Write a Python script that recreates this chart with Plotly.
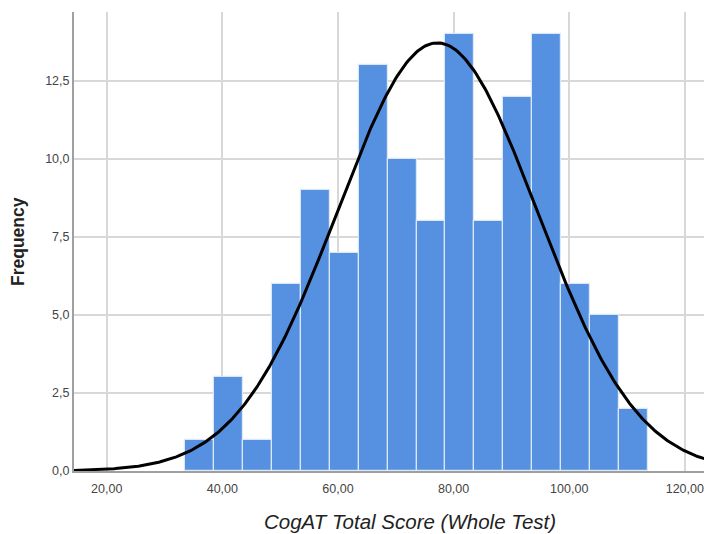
import numpy as np
import plotly.graph_objects as go

# Histogram data
bin_start = 33.6
bin_width = 5.0
counts = [1, 3, 1, 6, 9, 7, 13, 10, 8, 14, 8, 12, 14, 6, 5, 2]

# Fitted normal curve parameters (as displayed by SPSS)
curve_mean = 77.2
curve_sd = 17.3
n_total = sum(counts)

x_tickvals = [20, 40, 60, 80, 100, 120]
x_ticktext = ["20,00", "40,00", "60,00", "80,00", "100,00", "120,00"]
y_tickvals = [0, 2.5, 5.0, 7.5, 10.0, 12.5]
y_ticktext = ["0,0", "2,5", "5,0", "7,5", "10,0", "12,5"]

x_range = [14.34, 124.7]
y_range = [0, 14.71]

centers = [bin_start + bin_width * (i + 0.5) for i in range(len(counts))]

xs = np.linspace(x_range[0], x_range[1], 400)
ys = n_total * bin_width / (curve_sd * np.sqrt(2 * np.pi)) * np.exp(-0.5 * ((xs - curve_mean) / curve_sd) ** 2)

# page has an 8px body margin; compensate so the plot lands where the reference has it
OFF = 8
W, H = 712 - OFF, 534 - OFF
L, R, T, B = 74 - OFF, 0, 12 - OFF, 63
pw, ph = W - L - R, H - T - B


def px_to_paper(px, py):
    """page pixel -> paper coords"""
    fx, fy = px - OFF, py - OFF
    return (fx - L) / pw, (H - B - fy) / ph


fig = go.Figure()
fig.add_trace(go.Bar(
    x=centers, y=counts, width=[bin_width] * len(counts),
    marker=dict(color="#5591E0", line=dict(color="#DCE8F8", width=1.2)),
    hoverinfo="x+y",
))
fig.add_trace(go.Scatter(
    x=xs, y=ys, mode="lines",
    line=dict(color="black", width=3),
    hoverinfo="skip",
))

tx, ty = px_to_paper(410, 521)
fx, fy = px_to_paper(18, 242)

fig.update_layout(
    width=W, height=H,
    margin=dict(l=L, r=R, t=T, b=B, autoexpand=False),
    paper_bgcolor="white", plot_bgcolor="white",
    showlegend=False, bargap=0,
    font=dict(family="Liberation Sans, Arial, sans-serif", color="#444444"),
    xaxis=dict(
        range=x_range, tickvals=x_tickvals, ticktext=x_ticktext,
        showgrid=True, gridcolor="#D8D8D8", gridwidth=1.5,
        zeroline=False, showline=True, linecolor="#A0A0A0", linewidth=2,
        ticks="outside", ticklen=5, tickcolor="rgba(0,0,0,0)",
        tickfont=dict(size=12.5, color="#444444"),
    ),
    yaxis=dict(
        range=y_range, tickvals=y_tickvals, ticktext=y_ticktext,
        showgrid=True, gridcolor="#D8D8D8", gridwidth=1.5,
        zeroline=False, showline=True, linecolor="#A0A0A0", linewidth=2,
        ticks="", tickfont=dict(size=12.5, color="#444444"),
    ),
    annotations=[
        dict(text="<i>CogAT Total Score (Whole Test)</i>",
             x=tx, y=ty, xref="paper", yref="paper",
             showarrow=False, font=dict(size=20.5, color="#222222", family="Liberation Sans, Arial, sans-serif"),
             xanchor="center", yanchor="middle"),
        dict(text="<b>Frequency</b>",
             x=fx, y=fy, xref="paper", yref="paper", textangle=-90,
             showarrow=False, font=dict(size=17.5, color="#222222", family="Liberation Sans, Arial, sans-serif"),
             xanchor="center", yanchor="middle"),
    ],
)

fig.write_html("out.html")
